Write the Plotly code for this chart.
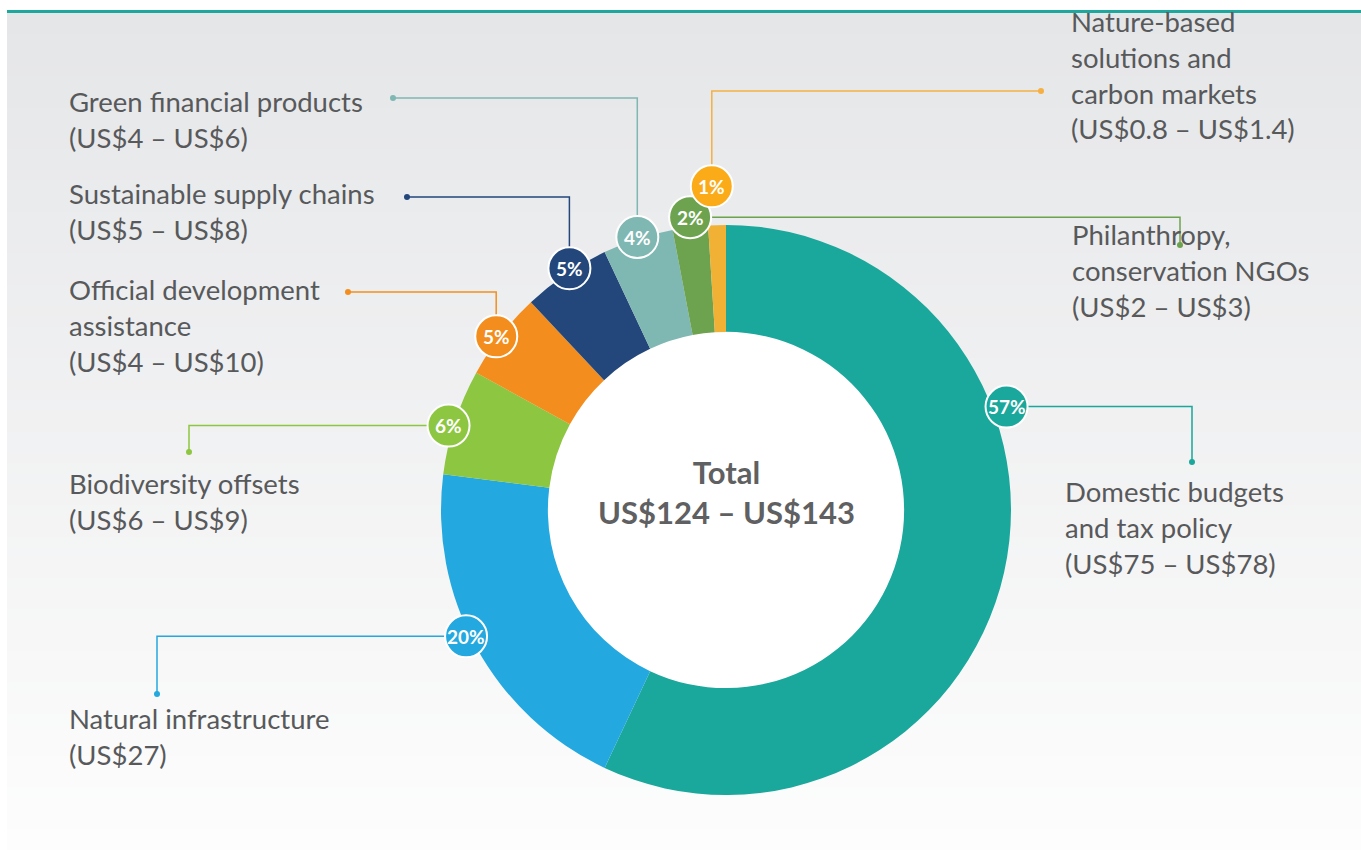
import math
import plotly.graph_objects as go

# slices, clockwise from 12 o'clock
categories = [
    "Domestic budgets\nand tax policy",
    "Natural infrastructure",
    "Biodiversity offsets",
    "Official development\nassistance",
    "Sustainable supply chains",
    "Green financial products",
    "Philanthropy,\nconservation NGOs",
    "Nature-based\nsolutions and\ncarbon markets",
]
shares = [57, 20, 6, 5, 5, 4, 2, 1]
ranges = [
    "(US$75 – US$78)",
    "(US$27)",
    "(US$6 – US$9)",
    "(US$4 – US$10)",
    "(US$5 – US$8)",
    "(US$4 – US$6)",
    "(US$2 – US$3)",
    "(US$0.8 – US$1.4)",
]
total_text = "Total<br>US$124 – US$143"

slice_colors = ["#1aa79c", "#23a8e0", "#8dc641", "#f38e1e", "#23477b", "#7fb7b2", "#6da34f", "#f0b135"]
badge_colors = ["#1aa79c", "#23a8e0", "#8dc641", "#f38e1e", "#23477b", "#7fb7b2", "#6da34f", "#fbab18"]
line_colors = ["#1aa79c", "#23a8e0", "#8dc641", "#f38e1e", "#23477b", "#7fb7b2", "#6da34f", "#f5b041"]

# layout of the labels (pixels)
badge_frac = [0.34, 0.54, 0.45, 0.46, 0.57, 0.5, 0.53, 0.3]   # where in the slice the badge sits
badge_rad = [299, 289, 290, 288, 288, 287, 295, 324]
leader_mode = ["h", "h", "h", "v", "v", "v", "h", "v"]
dot_xy = [(1192, 462), (157, 694), (189, 452), (348, 292), (407, 197), (393, 98), (1180, 245), (1041, 91)]
label_xy = [(1063, 527), (67, 736), (67, 501), (67, 325), (67, 211), (67, 119), (1070, 270), (1069, 75)]

W, H = 1361, 850
CX, CY, R = 726, 510, 285
HOLE = 0.625
TXT = "#58595b"
FONT = "Lato"

fig = go.Figure()

fig.add_trace(go.Pie(
    values=shares,
    labels=[c.replace("\n", " ") for c in categories],
    marker=dict(colors=slice_colors, line=dict(width=0)),
    sort=False,
    direction="clockwise",
    rotation=0,
    hole=HOLE,
    textinfo="none",
    hoverinfo="label+percent",
    showlegend=False,
    domain=dict(x=[(CX - R) / W, (CX + R) / W], y=[1 - (CY + R) / H, 1 - (CY - R) / H]),
))
# invisible trace to hold the pixel axes
fig.add_trace(go.Scatter(x=[0, W], y=[0, H], mode="markers", marker=dict(opacity=0),
                         hoverinfo="skip", showlegend=False))

shapes = []
# background gradient
n = 80
top, bottom = 13, H
c0, c1 = (229, 230, 232), (253, 253, 253)
for i in range(n):
    t = i / (n - 1)
    col = tuple(round(a + (b - a) * t) for a, b in zip(c0, c1))
    y0 = top + (bottom - top) * i / n
    y1 = top + (bottom - top) * (i + 1) / n + 1
    shapes.append(dict(type="rect", xref="x", yref="y", x0=7, x1=W, y0=y0, y1=y1,
                       fillcolor="rgb(%d,%d,%d)" % col, line=dict(width=0), layer="below"))
shapes.append(dict(type="rect", xref="x", yref="y", x0=7, x1=W, y0=10, y1=13,
                   fillcolor="#1ea79d", line=dict(width=0), layer="below"))
# white disc behind the donut hole
rh = R * HOLE + 2
shapes.append(dict(type="circle", xref="x", yref="y", x0=CX - rh, x1=CX + rh, y0=CY - rh, y1=CY + rh,
                   fillcolor="white", line=dict(width=0), layer="below"))

annotations = []
total = sum(shares)
cum = 0
badges = []
for i, v in enumerate(shares):
    a0 = cum / total * 360
    a1 = (cum + v) / total * 360
    cum += v
    th = math.radians(a0 + (a1 - a0) * badge_frac[i])
    bx = CX + badge_rad[i] * math.sin(th)
    by = CY - badge_rad[i] * math.cos(th)
    dx, dy = dot_xy[i]
    if leader_mode[i] == "h":
        path = "M %.1f %.1f L %.1f %.1f L %.1f %.1f" % (bx, by, dx, by, dx, dy)
    else:
        path = "M %.1f %.1f L %.1f %.1f L %.1f %.1f" % (bx, by, bx, dy, dx, dy)
    shapes.append(dict(type="path", xref="x", yref="y", path=path,
                       line=dict(color=line_colors[i], width=1.5), layer="above"))
    shapes.append(dict(type="circle", xref="x", yref="y", x0=dx - 3, x1=dx + 3, y0=dy - 3, y1=dy + 3,
                       fillcolor=line_colors[i], line=dict(width=0), layer="above"))
    badges.append((bx, by, i))

# badges drawn after all leader lines; the 1% sits on top of the 2%
for bx, by, i in badges:
    shapes.append(dict(type="circle", xref="x", yref="y", x0=bx - 21, x1=bx + 21, y0=by - 21, y1=by + 21,
                       fillcolor=badge_colors[i], line=dict(color="white", width=2), layer="above"))
    annotations.append(dict(x=bx, y=by, xref="x", yref="y", text="<b>%d%%</b>" % shares[i],
                            showarrow=False, font=dict(family=FONT, size=19, color="white")))

for i, c in enumerate(categories):
    lx, ly = label_xy[i]
    annotations.append(dict(x=lx, y=ly, xref="x", yref="y", xanchor="left", yanchor="middle", align="left",
                            text=c.replace("\n", "<br>") + "<br>" + ranges[i], showarrow=False,
                            font=dict(family=FONT, size=27.5, color=TXT)))

annotations.append(dict(x=CX, y=CY - 18, xref="x", yref="y",
                        text="<b>" + total_text.replace("<br>", "</b><br><b>") + "</b>",
                        showarrow=False, font=dict(family=FONT, size=31, color="#5f6062")))

fig.update_layout(
    width=W, height=H, autosize=False,
    margin=dict(l=0, r=0, t=0, b=0),
    paper_bgcolor="white", plot_bgcolor="rgba(0,0,0,0)",
    xaxis=dict(range=[0, W], visible=False, fixedrange=True, domain=[0, 1]),
    yaxis=dict(range=[H, 0], visible=False, fixedrange=True, domain=[0, 1]),
    shapes=shapes,
    annotations=annotations,
)

fig.write_html("out.html", config={"displayModeBar": False},
               post_script="document.body.style.margin='0px';")
